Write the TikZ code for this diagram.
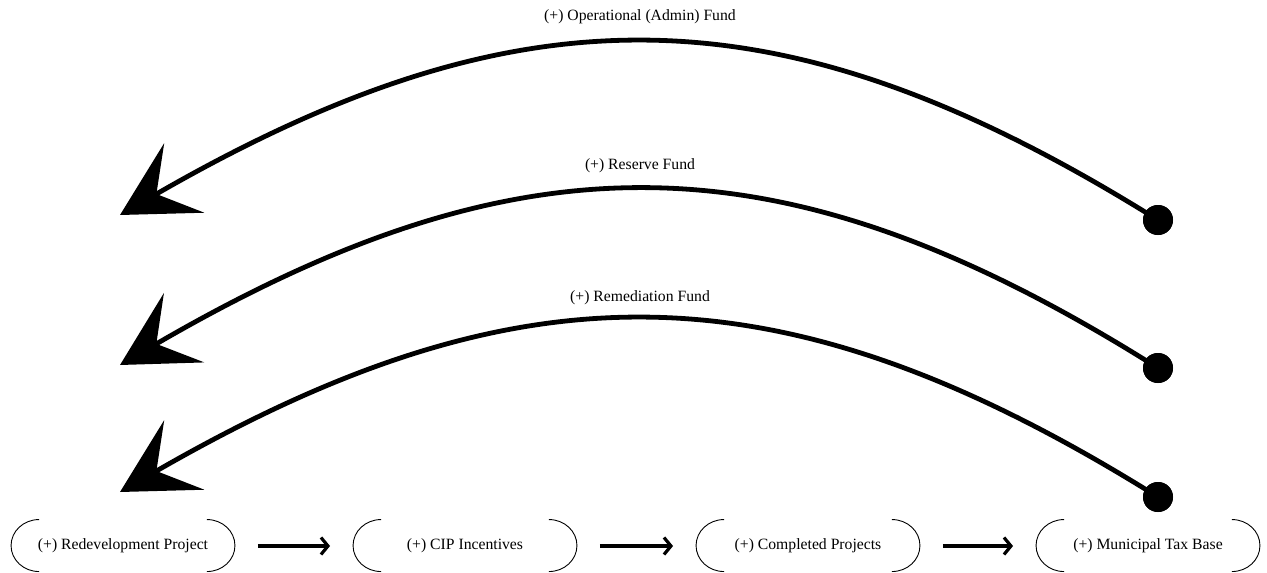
\documentclass[tikz,border=0pt]{standalone}
\usepackage{fontspec}
\setmainfont{Liberation Serif}
\usetikzlibrary{arrows.meta}
\begin{document}
\begin{tikzpicture}[x=1pt,y=1pt,
  font=\rmfamily\fontsize{15.7}{18}\selectfont,
  paren/.style={minimum width=223pt, minimum height=52pt, inner sep=0pt,
    append after command={
      ([xshift=28pt]\tikzlastnode.north west) arc[start angle=90, end angle=270, x radius=28pt, y radius=26pt]
      ([xshift=-28pt]\tikzlastnode.north east) arc[start angle=90, end angle=-90, x radius=28pt, y radius=26pt]}},
  flow/.style={line width=3.2pt, -{Straight Barb[length=7pt,width=17pt]}, shorten <=23pt, shorten >=23pt},
  loopline/.style={line width=4.8pt, -{Stealth[length=74pt,width=80pt,inset=32pt]}},
  dot/.style={circle, fill=black, minimum size=30pt, inner sep=0pt},
  lbl/.style={inner sep=0pt}]
\useasboundingbox (0,0) rectangle (1267,-573);

% process nodes
\draw[line width=0.9pt] (123,-546) node[paren] (r) {(+) Redevelopment Project};
\draw[line width=0.9pt] (465,-546) node[paren] (c) {(+) CIP Incentives};
\draw[line width=0.9pt] (808,-546) node[paren] (p) {(+) Completed Projects};
\draw[line width=0.9pt] (1148,-546) node[paren] (m) {(+) Municipal Tax Base};

\draw[flow] (r) -- (c);
\draw[flow] (c) -- (p);
\draw[flow] (p) -- (m);

% loop start dots and tips
\node[dot] (d1) at (1158,-220) {};
\node[dot] (d2) at (1158,-368) {};
\node[dot] (d3) at (1158,-497) {};
\coordinate (t1) at (120,-215);
\coordinate (t2) at (120,-365);
\coordinate (t3) at (120,-492);

\draw[loopline] (d1.center) .. controls +(-373,233) and +(404,233) .. (t1);
\draw[loopline] (d2.center) .. controls +(-373,235) and +(404,235) .. (t2);
\draw[loopline] (d3.center) .. controls +(-373,233) and +(404,233) .. (t3);

\node[dot] at (d1) {};
\node[dot] at (d2) {};
\node[dot] at (d3) {};

\node[lbl] (l1) at (640,-17) {(+) Operational (Admin) Fund};
\node[lbl] (l2) at (640,-166) {(+) Reserve Fund};
\node[lbl] (l3) at (640,-298) {(+) Remediation Fund};
\end{tikzpicture}
\end{document}
